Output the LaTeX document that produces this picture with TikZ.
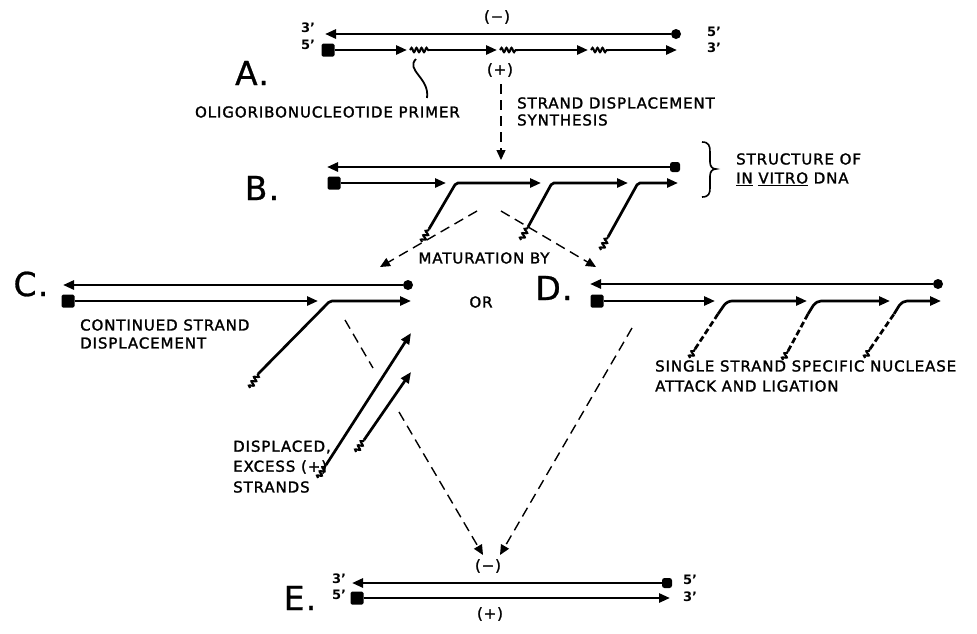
\documentclass[tikz,border=0pt]{standalone}
\usepackage{fontspec}
\setmainfont{DejaVu Sans}
\newfontfamily\lett[LetterSpace=6,FakeBold=1.6]{DejaVu Sans}
\newfontfamily\steplett[LetterSpace=4,FakeBold=0.8]{DejaVu Sans}
\usetikzlibrary{arrows.meta,decorations.pathmorphing}

\begin{document}
\begin{tikzpicture}[x=1pt,y=-1pt,
  strand/.style={line width=2.7pt},
  tip/.style={-{Triangle[length=11pt,width=9pt]}},
  rna/.style={line width=2pt, decorate, decoration={snake,segment length=5pt,amplitude=2.2pt}},
  flow/.style={line width=1.4pt, dash pattern=on 10pt off 6pt, -{Triangle[length=10pt,width=9pt]}},
  nick/.style={line width=2.7pt, dash pattern=on 6pt off 3pt},
  fivesq/.style={rectangle, fill=black, rounded corners=1.5pt, minimum size=13pt, inner sep=0pt},
  endc/.style={circle, fill=black, minimum size=10pt, inner sep=0pt},
  ends/.style={rectangle, fill=black, rounded corners=2.5pt, minimum size=10pt, inner sep=0pt},
  big/.style={font=\fontsize{33}{33}\selectfont\steplett, inner sep=0pt},
  lbl/.style={font=\fontsize{15}{20}\selectfont\lett, inner sep=0pt, align=left},
  prime/.style={font=\fontsize{13}{13}\selectfont\bfseries, inner sep=0pt},
]
\useasboundingbox (0,0) rectangle (977,633);

% ---------------- A: template with primers ----------------
\node[big] (labA) at (252,73) {A.};
\node[prime] (A3l) at (308,28) {3'};
\node[prime] (A5l) at (308,45) {5'};
\node[prime] (A5r) at (714,32) {5'};
\node[prime] (A3r) at (714,48) {3'};
\node[lbl] (Aminus) at (497,17) {(−)};
\node[lbl] (Aplus) at (500,70) {(+)};
\node[endc] (A5m) at (676,34) {};
\coordinate (A3m) at (325,34);
\draw[strand,tip] (A5m) -- (A3m);
\node[fivesq] (A5) at (328,50) {};
\coordinate (Ab1) at (407,50);
\coordinate (Aw1a) at (410,50); \coordinate (Aw1b) at (429,50);
\coordinate (Ab2) at (497,50);
\coordinate (Aw2a) at (500,50); \coordinate (Aw2b) at (518,50);
\coordinate (Ab3) at (588,50);
\coordinate (Aw3a) at (591,50); \coordinate (Aw3b) at (609,50);
\coordinate (Ab4) at (677,50);
\draw[strand,tip] (A5) -- (Ab1);
\draw[rna] (Aw1a) -- (Aw1b);
\draw[strand,tip] (Aw1b) -- (Ab2);
\draw[rna] (Aw2a) -- (Aw2b);
\draw[strand,tip] (Aw2b) -- (Ab3);
\draw[rna] (Aw3a) -- (Aw3b);
\draw[strand,tip] (Aw3b) -- (Ab4);
% pointer to the primer
\node[lbl, anchor=east] (primer) at (460,112) {OLIGORIBONUCLEOTIDE PRIMER};
\coordinate (Ap1) at (416,59);
\coordinate (Ap2) at (427,98);
\draw[line width=1.8pt] (Ap1) .. controls (405,70) and (430,78) .. (Ap2);
% step A -> B
\node[lbl, anchor=west] (sds1) at (517,103) {STRAND DISPLACEMENT};
\node[lbl, anchor=west] (sds2) at (517,120) {SYNTHESIS};
\coordinate (AB1) at (501,84);
\coordinate (AB2) at (501,160);
\draw[flow] (AB1) -- (AB2);

% ---------------- B: in vitro product ----------------
\node[big] (labB) at (262,188) {B.};
\node[ends] (B5m) at (675,167) {};
\coordinate (B3m) at (327,167);
\draw[strand,tip] (B5m) -- (B3m);
\node[fivesq] (B5) at (334,183) {};
\coordinate (Bb1) at (446,183);
\draw[strand,tip] (B5) -- (Bb1);
\coordinate (Bw1a) at (422,242); \coordinate (Bw1b) at (429,229);
\coordinate (Bc1) at (456,183); \coordinate (Bb2) at (541,183);
\coordinate (Bw2a) at (521,240); \coordinate (Bw2b) at (528,227);
\coordinate (Bc2) at (552,183); \coordinate (Bb3) at (628,183);
\coordinate (Bw3a) at (601,250); \coordinate (Bw3b) at (608,237);
\coordinate (Bc3) at (638,183); \coordinate (Bb4) at (678,183);
\draw[rna] (Bw1a) -- (Bw1b);
\draw[strand,tip,rounded corners=2pt] (Bw1b) -- (Bc1) -- (Bb2);
\draw[rna] (Bw2a) -- (Bw2b);
\draw[strand,tip,rounded corners=2pt] (Bw2b) -- (Bc2) -- (Bb3);
\draw[rna] (Bw3a) -- (Bw3b);
\draw[strand,tip,rounded corners=2pt] (Bw3b) -- (Bc3) -- (Bb4);
% brace and caption
\draw[line width=1.6pt] (702,142) .. controls (709,142) and (710,146) .. (710,152)
  -- (710,162) .. controls (710,166) and (712,169) .. (716,169)
  .. controls (712,169) and (710,172) .. (710,176)
  -- (710,188) .. controls (710,193) and (709,197) .. (702,197);
\node[lbl, anchor=west] (str1) at (736,159) {STRUCTURE OF};
\node[lbl, anchor=west] (str2) at (736,179) {\underline{IN} \underline{VITRO} DNA};

% ---------------- maturation ----------------
\node[lbl] (mat) at (484,258) {MATURATION BY};
\node[lbl] (or) at (481,302) {OR};
\coordinate (BC1) at (477,211); \coordinate (BC2) at (380,267);
\coordinate (BD1) at (501,211); \coordinate (BD2) at (596,267);
\draw[flow] (BC1) -- (BC2);
\draw[flow] (BD1) -- (BD2);

% ---------------- C: continued strand displacement ----------------
\node[big] (labC) at (31,284) {C.};
\node[endc] (C5m) at (408,285) {};
\coordinate (C3m) at (63,285);
\draw[strand,tip] (C5m) -- (C3m);
\node[fivesq] (C5) at (68,301) {};
\coordinate (Cb1) at (318,301);
\draw[strand,tip] (C5) -- (Cb1);
\coordinate (Cw1a) at (250,388); \coordinate (Cw1b) at (258,374);
\coordinate (Cc1) at (330,301); \coordinate (Cb2) at (411,301);
\draw[rna] (Cw1a) -- (Cw1b);
\draw[strand,tip,rounded corners=2pt] (Cw1b) -- (Cc1) -- (Cb2);
\node[lbl, anchor=west] (cont1) at (80,325) {CONTINUED STRAND};
\node[lbl, anchor=west] (cont2) at (80,343) {DISPLACEMENT};
% displaced excess strands
\coordinate (Xw1a) at (318,478); \coordinate (Xw1b) at (326,465);
\coordinate (Xt1) at (411,333);
\coordinate (Xw2a) at (356,452); \coordinate (Xw2b) at (364,440);
\coordinate (Xt2) at (411,372);
\draw[rna] (Xw1a) -- (Xw1b);
\draw[strand,tip] (Xw1b) -- (Xt1);
\draw[rna] (Xw2a) -- (Xw2b);
\draw[strand,tip] (Xw2b) -- (Xt2);
\node[lbl, anchor=west] (disp1) at (233,447) {DISPLACED,};
\node[lbl, anchor=west] (disp2) at (233,467) {EXCESS (+)};
\node[lbl, anchor=west] (disp3) at (233,487) {STRANDS};
% C -> E (passes behind the excess strands)
\coordinate (CE1) at (345,320); \coordinate (CE2) at (373,368);
\coordinate (CE3) at (399,412); \coordinate (CE4) at (483,555);
\draw[line width=1.4pt, dash pattern=on 10pt off 6pt] (CE1) -- (CE2);
\draw[flow] (CE3) -- (CE4);

% ---------------- D: nuclease attack and ligation ----------------
\node[big] (labD) at (554,288) {D.};
\node[endc] (D5m) at (938,284) {};
\coordinate (D3m) at (590,284);
\draw[strand,tip] (D5m) -- (D3m);
\node[fivesq] (D5) at (597,301) {};
\coordinate (Db1) at (715,301);
\draw[strand,tip] (D5) -- (Db1);
\coordinate (Dw1a) at (690,358); \coordinate (Dw1b) at (695,349);
\coordinate (Dm1) at (718,314); \coordinate (Dc1) at (727,301); \coordinate (Db2) at (807,301);
\coordinate (Dw2a) at (783,360); \coordinate (Dw2b) at (788,351);
\coordinate (Dm2) at (808,314); \coordinate (Dc2) at (816,301); \coordinate (Db3) at (890,301);
\coordinate (Dw3a) at (865,358); \coordinate (Dw3b) at (870,349);
\coordinate (Dm3) at (894,314); \coordinate (Dc3) at (902,301); \coordinate (Db4) at (941,301);
\draw[rna] (Dw1a) -- (Dw1b);
\draw[nick] (Dw1b) -- (Dm1);
\draw[strand,tip,rounded corners=5pt] (Dm1) -- (Dc1) -- (Db2);
\draw[rna] (Dw2a) -- (Dw2b);
\draw[nick] (Dw2b) -- (Dm2);
\draw[strand,tip,rounded corners=5pt] (Dm2) -- (Dc2) -- (Db3);
\draw[rna] (Dw3a) -- (Dw3b);
\draw[nick] (Dw3b) -- (Dm3);
\draw[strand,tip,rounded corners=5pt] (Dm3) -- (Dc3) -- (Db4);
\node[lbl, anchor=west] (nuc1) at (655,366) {SINGLE STRAND SPECIFIC NUCLEASE};
\node[lbl, anchor=west] (nuc2) at (655,386) {ATTACK AND LIGATION};
% D -> E
\coordinate (DE1) at (632,328); \coordinate (DE2) at (500,555);
\draw[flow] (DE1) -- (DE2);

% ---------------- E: mature duplex ----------------
\node[big] (labE) at (300,598) {E.};
\node[prime] (E3l) at (339,579) {3'};
\node[prime] (E5l) at (339,595) {5'};
\node[prime] (E5r) at (690,580) {5'};
\node[prime] (E3r) at (690,597) {3'};
\node[lbl] (Eminus) at (488,566) {(−)};
\node[lbl] (Eplus) at (490,614) {(+)};
\node[ends] (E5m) at (667,583) {};
\coordinate (E3m) at (352,583);
\draw[strand,tip] (E5m) -- (E3m);
\node[fivesq] (E5) at (357,598) {};
\coordinate (Eb1) at (670,598);
\draw[strand,tip] (E5) -- (Eb1);
\end{tikzpicture}
\end{document}
